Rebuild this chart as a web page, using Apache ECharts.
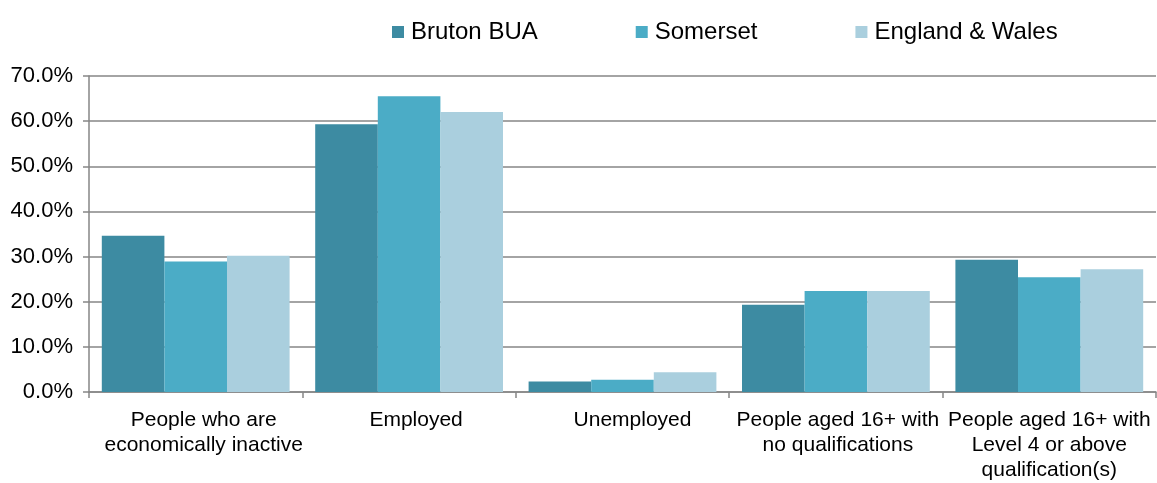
<!DOCTYPE html>
<html>
<head>
<meta charset="utf-8">
<script src="https://cdn.jsdelivr.net/npm/echarts@6/dist/echarts.min.js"></script>
<style>html,body{margin:0;padding:0;background:#fff;}#c{width:1157px;height:483px;}</style>
</head>
<body>
<div id="c"></div>
<script>
const categories = [
  "People who are\neconomically inactive",
  "Employed",
  "Unemployed",
  "People aged 16+ with\nno qualifications",
  "People aged 16+ with\nLevel 4 or above\nqualification(s)"
];
const seriesNames = ["Bruton BUA", "Somerset", "England & Wales"];
const bruton = [34.6, 59.3, 2.3, 19.3, 29.3];
const somerset = [28.9, 65.5, 2.7, 22.4, 25.4];
const englandWales = [30.2, 62.0, 4.4, 22.4, 27.2];
const colors = ["#3D8BA2", "#4BACC6", "#AACFDE"];

// small horizontal nudges of the category labels (styling only)
const labelShift = [16, 14, 20, 4, 0];

const chart = echarts.init(document.getElementById('c'), null, {renderer: 'canvas'});
const font = 'Liberation Sans, Arial, sans-serif';
chart.setOption({
  animation: false,
  color: colors,
  legend: {
    left: 387, top: 15,
    itemWidth: 12, itemHeight: 12, itemGap: 98,
    icon: 'rect',
    textStyle: {fontFamily: font, fontSize: 24, color: '#000', padding: [0,0,0,2]},
    data: seriesNames
  },
  grid: {left: 89, right: 1, top: 76, bottom: 88, containLabel: false},
  xAxis: {
    type: 'category',
    data: categories.map((c, i) => ({value: c, textStyle: {padding: [0, 0, 0, labelShift[i]]}})),
    axisLine: {lineStyle: {color: '#868686', width: 1.5}},
    axisTick: {show: true, length: 6, lineStyle: {color: '#868686', width: 1.5}},
    axisLabel: {fontFamily: font, fontSize: 21, color: '#000', lineHeight: 25, margin: 16, interval: 0}
  },
  yAxis: {
    type: 'value', min: 0, max: 70, interval: 10,
    axisLine: {show: true, lineStyle: {color: '#868686', width: 1.5}},
    axisTick: {show: true, length: 6, lineStyle: {color: '#868686', width: 1.5}},
    splitLine: {lineStyle: {color: '#868686', width: 1.5}},
    axisLabel: {fontFamily: font, fontSize: 22, color: '#000', margin: 16,
      formatter: v => v.toFixed(1) + '%'}
  },
  series: [
    {name: seriesNames[0], type: 'bar', data: bruton, barGap: '0%', barCategoryGap: '12%'},
    {name: seriesNames[1], type: 'bar', data: somerset, barGap: '0%', barCategoryGap: '12%'},
    {name: seriesNames[2], type: 'bar', data: englandWales, barGap: '0%', barCategoryGap: '12%'}
  ]
});
</script>
</body>
</html>
